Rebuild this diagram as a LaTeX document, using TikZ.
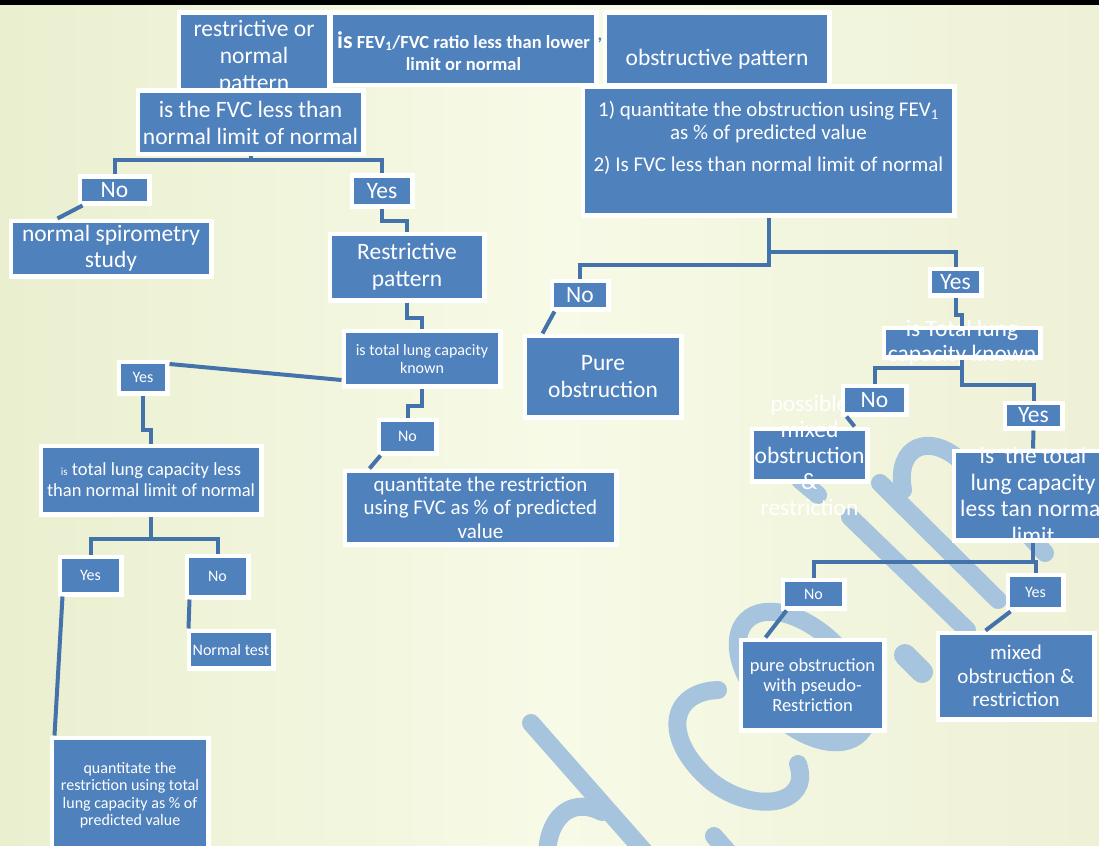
\documentclass[tikz,border=0pt]{standalone}
\usepackage{fontspec}
\setmainfont{Carlito}
\usetikzlibrary{calc}
\definecolor{boxblue}{RGB}{79,129,189}
\definecolor{connblue}{RGB}{68,114,170}
\definecolor{wmblue}{RGB}{166,196,221}
\definecolor{bgleft}{RGB}{234,239,208}
\definecolor{bgmid}{RGB}{247,250,230}
\definecolor{bgright}{RGB}{238,241,214}
\newcommand\fsz[2]{\fontsize{#1}{#2}\selectfont}
% name, x1, y1, x2, y2, label options, text
\newcommand\mkbox[7]{%
  \node[box, minimum width={#4-#2+4.5}, minimum height={#5-#3+4.5},
        label={[lbl,#6]center:{#7}}] (#1) at ({(#2+#4)/2},{(#3+#5)/2}) {};}
\begin{document}
\begin{tikzpicture}[x=1pt,y=-1pt,
  box/.style={fill=boxblue, draw=white, line width=4.5pt, inner sep=0pt},
  lbl/.style={text=white, align=center, inner sep=0pt},
  conn/.style={draw=connblue, line width=4pt},
  wm/.style={draw=wmblue, line width=18pt, line cap=round},
  big/.style={font=\fsz{23.5}{27}},
  small/.style={font=\fsz{16}{18}}]
\useasboundingbox (0,0) rectangle (1099,845);
\clip (0,0) rectangle (1099,845);
\shade[left color=bgleft, right color=bgright, middle color=bgmid] (0,0) rectangle (1099,845);
\fill[black] (0,0) rectangle (1099,5);

% watermark
\draw[wm] (531,723) -- (657,866);
\draw[wm] (547,852) .. controls (550,812) and (575,798) .. (602,812);
\draw[wm] (714,836) -- (728,852);
\draw[wm] (718,690) .. controls (668,692) and (662,740) .. (712,782)
          .. controls (755,815) and (812,805) .. (798,764);
\draw[wm, rotate around={-45:(803,677)}] (803,677) ellipse [x radius=80, y radius=46];
\draw[wm, line width=22pt] (905,655) -- (922,672);
\draw[wm] (850,517) -- (967,630);
\draw[wm] (880,483) -- (998,600);
\draw[wm] (903,490) .. controls (895,445) and (930,432) .. (962,462) -- (1045,553);
\draw[wm] (800,480) -- (818,495);

% boxes
\mkbox{A}{181}{15}{327}{88}{big, yshift=-5.5pt}{restrictive or\\normal\\pattern}
\mkbox{B}{333}{15}{594}{83}{font=\bfseries\fsz{18.5}{22}, yshift=-2pt}{{\fsz{24}{22}is} FEV\textsubscript{1}/FVC ratio less than lower\\limit or normal}
\node[text=boxblue, font=\bfseries\fsz{18}{20}, inner sep=0pt] (comma) at (600,40) {,};
\mkbox{C}{607}{15}{827}{83}{big, yshift=-10pt}{obstructive pattern}
\mkbox{D}{585}{89}{952}{213}{font=\fsz{21}{23}, yshift=13.5pt}{1) quantitate the obstruction using FEV\textsubscript{1}\\as \% of predicted value\\[9pt]2) Is FVC less than normal limit of normal}
\mkbox{E}{140}{93}{361}{152}{big}{is the FVC less than\\normal limit of normal}
\mkbox{F}{82}{179}{147}{201}{big}{No}
\mkbox{G}{354}{178}{410}{204}{big}{Yes}
\mkbox{H}{13}{223}{209}{274}{font=\fsz{23.5}{26}}{normal spirometry\\study}
\mkbox{I}{332}{236}{482}{298}{big}{Restrictive\\pattern}
\mkbox{J}{346}{333}{498}{384}{small}{is total lung capacity\\known}
\mkbox{K}{121}{364}{165}{391}{small}{Yes}
\mkbox{L}{381}{422}{434}{451}{small}{No}
\mkbox{M}{347}{473}{614}{542}{font=\fsz{21}{23.5}}{quantitate the restriction\\using FVC as \% of predicted\\value}
\mkbox{N}{43}{448}{259}{512}{font=\fsz{18.5}{21}}{{\fsz{11}{21}is} total lung capacity less\\than normal limit of normal}
\mkbox{O}{62}{559}{119}{592}{small}{Yes}
\mkbox{P}{189}{558}{246}{595}{small}{No}
\mkbox{Q}{191}{633}{271}{666}{small}{Normal test}
\mkbox{R}{54}{740}{206}{850}{font=\fsz{16}{17.5}}{quantitate the\\restriction using total\\lung capacity as \% of\\predicted value}
\mkbox{S}{554}{283}{606}{307}{big}{No}
\mkbox{T}{932}{271}{979}{293}{big}{Yes}
\mkbox{U}{527}{338}{679}{415}{big}{Pure\\obstruction}
\mkbox{V}{886}{330}{1038}{355}{font=\fsz{23.5}{25}}{is Total lung\\capacity known}
\mkbox{Z}{754}{431}{865}{479}{font=\fsz{23.5}{26}}{possible\\mixed\\obstruction\\\&\\restriction}
\mkbox{Wn}{845}{388}{904}{412}{big}{No}
\mkbox{Yy}{1007}{405}{1060}{426}{big}{Yes}
\mkbox{X}{956}{453}{1110}{538}{font=\fsz{23.5}{26.5}}{is\ \ the total\\lung capacity\\less tan normal\\limit}
\mkbox{AA}{785}{582}{842}{606}{small}{No}
\mkbox{AB}{1010}{577}{1061}{607}{small}{Yes}
\mkbox{AC}{743}{642}{882}{728}{font=\fsz{18.5}{20}}{pure obstruction\\with pseudo-\\Restriction}
\mkbox{AD}{940}{635}{1092}{717}{font=\fsz{21}{23.5}}{mixed\\obstruction \&\\restriction}

% connectors
\draw[conn] (E.south) -- (E.south |- 0,160) -| (F.north);
\draw[conn] (E.south |- 0,160) -| (G.north);
\draw[conn] ($(F.south west)+(5,0)$) -- ($(H.north west)+(49,0)$);
\draw[conn] (G.south) -- ++(0,12) -| (I.north);
\draw[conn] (I.south) -- ++(0,15) -| (J.north);
\draw[conn] (J.south) -- ++(0,17) -| (L.north);
\draw[conn] (J.west |- 0,380) -- (K.east |- 0,364);
\draw[conn] ($(L.south west)+(4,0)$) -- ($(M.north west)+(27,0)$);
\draw[conn] (K.south) -- ++(0,34) -| (N.north);
\draw[conn] (N.south) -- (N.south |- 0,539) -| (O.north);
\draw[conn] (N.south |- 0,539) -| (P.north);
\draw[conn] ($(O.south west)+(5,0)$) -- ($(R.north west)+(5,0)$);
\draw[conn] ($(P.south west)+(5,0)$) -- ($(Q.north west)+(2,0)$);
\draw[conn] (D.south) -- (D.south |- 0,252) -| (T.north);
\draw[conn] (D.south |- 0,250) -- (D.south |- 0,265) -| (S.north);
\draw[conn] ($(S.south west)+(5,0)$) -- ($(U.north west)+(20,0)$);
\draw[conn] (T.south) -- ++(0,17) -| (V.north);
\draw[conn] (V.south) -- (V.south |- 0,368) -| (Wn.north);
\draw[conn] (V.south |- 0,366) -- (V.south |- 0,385) -| (Yy.north);
\draw[conn] ($(Wn.south west)+(6,0)$) -- ($(Z.north west)+(105,0)$);
\draw[conn] (Yy.south) -- (X.north);
\draw[conn] (X.south) -- (X.south |- 0,562) -| (AA.north);
\draw[conn] (X.south |- 0,562) -| (AB.north);
\draw[conn] ($(AA.south west)+(6,0)$) -- ($(AC.north west)+(27,0)$);
\draw[conn] ($(AB.south west)+(5,0)$) -- ($(AD.north west)+(50,0)$);
\end{tikzpicture}
\end{document}
